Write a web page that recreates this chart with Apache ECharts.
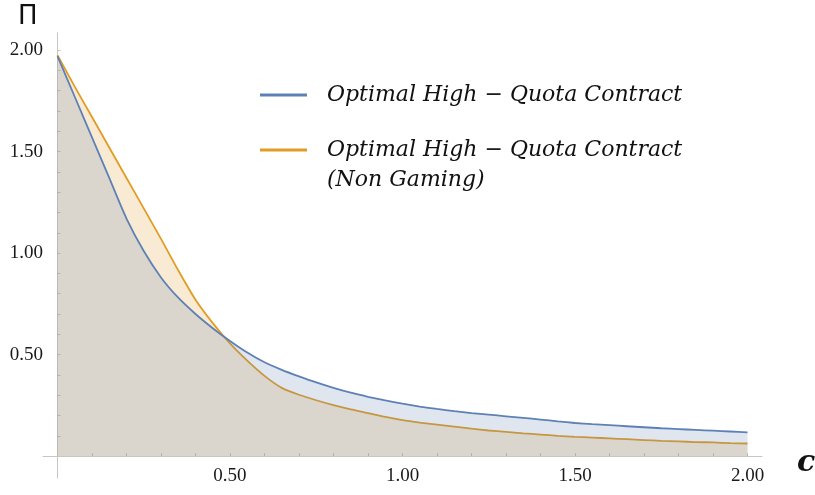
<!DOCTYPE html>
<html>
<head>
<meta charset="utf-8">
<script src="https://cdn.jsdelivr.net/npm/echarts@6/dist/echarts.min.js"></script>
<style>
  html, body { margin: 0; padding: 0; background: #fff; }
  #chart { width: 815px; height: 495px; }
</style>
</head>
<body>
<div id="chart"></div>
<script>
// c values, shared by both curves
const cValues = [0, 0.05, 0.1, 0.15, 0.2, 0.25, 0.3, 0.35, 0.4, 0.45, 0.5,
  0.55, 0.6, 0.65, 0.7, 0.75, 0.8, 0.85, 0.9, 0.95, 1.0,
  1.05, 1.1, 1.15, 1.2, 1.25, 1.3, 1.35, 1.4, 1.45, 1.5,
  1.55, 1.6, 1.65, 1.7, 1.75, 1.8, 1.85, 1.9, 1.95, 2.0];

// profit, optimal high-quota contract (blue)
const piGaming = [1.97, 1.77, 1.57, 1.37, 1.17, 1.01, 0.88, 0.78, 0.70, 0.63, 0.567,
  0.51, 0.462, 0.425, 0.393, 0.363, 0.336, 0.312, 0.292, 0.274, 0.258,
  0.244, 0.232, 0.221, 0.212, 0.204, 0.196, 0.188, 0.180, 0.171, 0.163,
  0.157, 0.152, 0.147, 0.142, 0.137, 0.133, 0.129, 0.125, 0.121, 0.117];

// profit, non gaming (orange)
const piNonGaming = [1.975, 1.82, 1.67, 1.52, 1.37, 1.22, 1.07, 0.915, 0.77, 0.655, 0.555,
  0.47, 0.395, 0.336, 0.302, 0.275, 0.251, 0.230, 0.212, 0.193, 0.177,
  0.165, 0.155, 0.145, 0.135, 0.126, 0.119, 0.112, 0.106, 0.100, 0.095,
  0.091, 0.087, 0.083, 0.079, 0.075, 0.072, 0.069, 0.067, 0.064, 0.062];

const xTickLabels = [0.5, 1.0, 1.5, 2.0];
const yTickLabels = [0.5, 1.0, 1.5, 2.0];
const minorTicks = [0.1, 0.2, 0.3, 0.4, 0.5, 0.6, 0.7, 0.8, 0.9, 1.0,
  1.1, 1.2, 1.3, 1.4, 1.5, 1.6, 1.7, 1.8, 1.9, 2.0];

const nameA = "Optimal High \u2212 Quota Contract";
const nameB = "Optimal High \u2212 Quota Contract (Non Gaming)";

const BLUE = "#5E81B5";
const ORANGE = "#E19C24";
const AXIS = "#c6c6c6";

const chart = echarts.init(document.getElementById("chart"), null, { renderer: "canvas" });

const labelStyle = {
  color: "#1a1a1a",
  fontFamily: "Liberation Serif",
  fontSize: 19,
  formatter: (v) => Number(v).toFixed(2),
};

const legendText = {
  fontFamily: "DejaVu Serif",
  fontStyle: "italic",
  fontSize: 22,
  color: "#111",
};

const option = {
  animation: false,
  grid: { left: 43, right: 53, top: 33, bottom: 17, containLabel: false, outerBoundsMode: "none" },
  legend: [
    {
      data: [nameA],
      left: 260,
      top: 81,
      padding: 0,
      icon: "rect",
      itemWidth: 47,
      itemHeight: 3,
      itemGap: 0,
      textStyle: Object.assign({ lineHeight: 28, padding: [0, 0, 0, 15] }, legendText),
    },
    {
      data: [nameB],
      left: 260,
      top: 105,
      padding: 0,
      icon: "rect",
      itemWidth: 47,
      itemHeight: 3,
      itemGap: 0,
      // blank first line keeps the icon level with the first text line
      formatter: (n) => "\u00A0\n" + n.replace(" (Non", "\n(Non"),
      textStyle: Object.assign({ lineHeight: 30, padding: [0, 0, 0, 15] }, legendText),
    },
  ],
  xAxis: {
    type: "value",
    min: -0.042,
    max: 2.042,
    name: "c",
    nameLocation: "end",
    nameGap: 35,
    nameTextStyle: {
      fontFamily: "DejaVu Serif",
      fontStyle: "italic",
      fontWeight: "bold",
      fontSize: 30,
      color: "#111",
      verticalAlign: "top",
      padding: [-8, 0, 0, 0],
    },
    axisLine: { onZero: true, lineStyle: { color: AXIS, width: 1 } },
    axisTick: { show: true, inside: true, length: 3, customValues: minorTicks, lineStyle: { color: AXIS } },
    // labels sit off the grid edge, not the zero line, so pull them up
    axisLabel: Object.assign({ margin: -11, customValues: xTickLabels }, labelStyle),
    splitLine: { show: false },
  },
  yAxis: {
    type: "value",
    min: -0.108,
    max: 2.084,
    name: "\u03A0",
    nameLocation: "end",
    nameGap: 3,
    nameTextStyle: {
      fontFamily: "DejaVu Sans",
      fontSize: 26,
      color: "#111",
      align: "right",
      padding: [0, 20, 0, 0],
    },
    axisLine: { show: true, onZero: true, lineStyle: { color: AXIS, width: 1 } },
    axisTick: { show: true, inside: true, length: 3, customValues: minorTicks, lineStyle: { color: AXIS } },
    axisLabel: Object.assign({ margin: 0, customValues: yTickLabels }, labelStyle),
    splitLine: { show: false },
  },
  series: [
    {
      name: nameA,
      type: "line",
      data: cValues.map((c, i) => [c, piGaming[i]]),
      showSymbol: false,
      smooth: 0.25,
      lineStyle: { color: BLUE, width: 1.8 },
      itemStyle: { color: BLUE },
      areaStyle: { color: BLUE, opacity: 0.2 },
      z: 3,
    },
    {
      name: nameB,
      type: "line",
      data: cValues.map((c, i) => [c, piNonGaming[i]]),
      showSymbol: false,
      smooth: 0.25,
      lineStyle: { color: ORANGE, width: 1.8 },
      itemStyle: { color: ORANGE },
      areaStyle: { color: ORANGE, opacity: 0.2 },
      z: 2,
    },
  ],
};

chart.setOption(option);
</script>
</body>
</html>
